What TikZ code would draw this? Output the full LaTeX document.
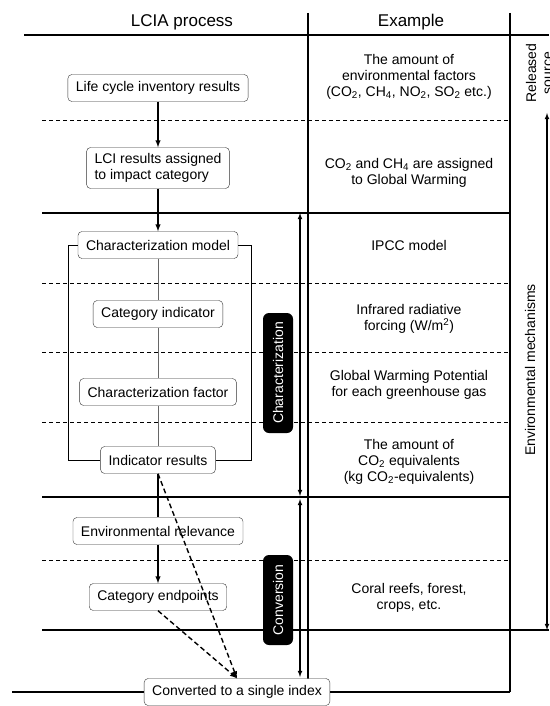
\documentclass[tikz,border=0pt]{standalone}
\usepackage{fontspec}
\setmainfont{Liberation Sans}
\usetikzlibrary{arrows}

\begin{document}
\begin{tikzpicture}[x=1pt,y=-1pt,
    every node/.style={font=\fontsize{14}{16}\selectfont},
    procbox/.style={draw=black!80,fill=white,rounded corners=4pt,inner xsep=8pt,inner ysep=6pt,minimum height=27pt},
    tagbox/.style={fill=black,text=white,rounded corners=6pt,rotate=90,minimum height=30pt},
    rule/.style={line width=1.4pt},
    subrule/.style={line width=0.9pt,dash pattern=on 4pt off 3pt},
    flow/.style={-latex,line width=1.4pt}]
  \useasboundingbox (0,0) rectangle (549,706);
  % table lines
  \draw[rule] (24,35) -- (549,35);
  \draw[rule] (308,13) -- (308,692);
  \draw[rule] (510,13) -- (510,692);
  \foreach \y in {213,497} \draw[rule] (42,\y) -- (510,\y);
  \draw[rule] (42,630) -- (549,630);
  \draw[rule] (12,692) -- (510,692);
  \foreach \y in {120,283,352,422,560} \draw[subrule] (42,\y) -- (510,\y);
  % range arrows
  \draw[latex-latex,line width=1.1pt] (300,213) -- (300,496);
  \draw[latex-latex,line width=1.1pt] (300,499) -- (300,677);
  \draw[latex-latex,line width=1.1pt] (547,113) -- (547,630);
  % headers
  \node (hproc) at (182,22) {\fontsize{17}{20}\selectfont LCIA process};
  \node (hex) at (411,22) {\fontsize{17}{20}\selectfont Example};
  % process boxes
  \node[procbox] (lci) at (158,88) {Life cycle inventory results};
  \node[procbox,align=left] (assign) at (158,168) {LCI results assigned\\to impact category};
  \node[procbox] (model) at (158,245) {Characterization model};
  \node[procbox] (indic) at (158,314) {Category indicator};
  \node[procbox] (factor) at (158,392) {Characterization factor};
  \node[procbox] (result) at (158,460) {Indicator results};
  \node[procbox] (relev) at (158,531) {Environmental relevance};
  \node[procbox] (endpt) at (158,597) {Category endpoints};
  \node[procbox] (index) at (237,692) {Converted to a single index};
  % stage tags
  \node[tagbox,minimum width=120pt] (tchar) at (278,373) {Characterization};
  \node[tagbox,minimum width=90pt] (tconv) at (278,600) {Conversion};
  % examples
  \node[align=center] (ex1) at (409,77) {The amount of\\environmental factors\\(CO\textsubscript{2}, CH\textsubscript{4}, NO\textsubscript{2}, SO\textsubscript{2} etc.)};
  \node[align=center] (ex2) at (409,173) {CO\textsubscript{2} and CH\textsubscript{4} are assigned\\to Global Warming};
  \node[align=center] (ex3) at (409,245) {IPCC model};
  \node[align=center] (ex4) at (409,319) {Infrared radiative\\forcing (W/m\textsuperscript{2})};
  \node[align=center] (ex5) at (409,385) {Global Warming Potential\\for each greenhouse gas};
  \node[align=center] (ex6) at (409,462) {The amount of\\CO\textsubscript{2} equivalents\\(kg CO\textsubscript{2}-equivalents)};
  \node[align=center] (ex7) at (409,598) {Coral reefs, forest,\\crops, etc.};
  % right column
  \node[rotate=90,align=center] (rel) at (539,73) {Released\\source};
  \node[rotate=90] (envm) at (530,370) {Environmental mechanisms};
  % characterization bracket
  \draw[line width=0.9pt] (model.west) -- (68,245) -- (68,460) -- (result.west);
  \draw[line width=0.9pt] (model.east) -- (251,245) -- (251,460) -- (result.east);
  \draw[black!60,line width=0.7pt] (model) -- (indic) (indic) -- (factor) (factor) -- (result);
  % flow
  \draw[flow] (lci) -- (assign);
  \draw[flow] (assign) -- (model);
  \draw[line width=1.4pt] (result) -- (relev);
  \draw[flow] (relev) -- (endpt);
  \draw[flow,dash pattern=on 5pt off 3pt] (result.south) -- (index.north);
  \draw[flow,dash pattern=on 5pt off 3pt] (endpt.south) -- (index.north);
\end{tikzpicture}
\end{document}
